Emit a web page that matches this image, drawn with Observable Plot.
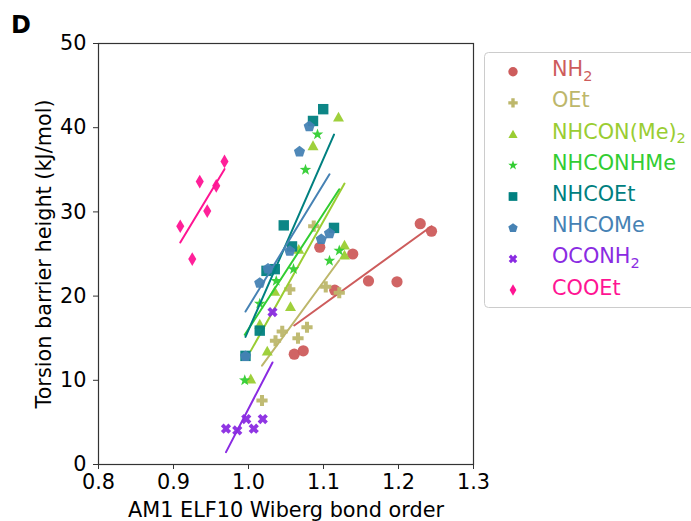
<!DOCTYPE html>
<html>
<head>
<meta charset="utf-8">
<script src="https://cdn.jsdelivr.net/npm/d3@7"></script>
<script src="https://cdn.jsdelivr.net/npm/@observablehq/plot@0.6"></script>
<style>
  html, body { margin: 0; padding: 0; background: white; }
  #wrap { position: relative; width: 691px; height: 521px; overflow: hidden; font-family: "DejaVu Sans", sans-serif; }
  #overlay { position: absolute; left: 0; top: 0; pointer-events: none; }
</style>
</head>
<body>
<div id="wrap"></div>
<script>
// ---- data ----
const series = ["NH2", "OEt", "NHCON(Me)2", "NHCONHMe", "NHCOEt", "NHCOMe", "OCONH2", "COOEt"];
const seriesColors = ["#CD5C5C", "#BDB76B", "#9ACD32", "#32CD32", "#008080", "#4682B4", "#8A2BE2", "#FF1493"];
const labelBase = ["NH", "OEt", "NHCON(Me)", "NHCONHMe", "NHCOEt", "NHCOMe", "OCONH", "COOEt"];
const labelSub  = ["2", "", "2", "", "", "", "2", ""];

const nh2X = [1.061, 1.073, 1.095, 1.115, 1.139, 1.160, 1.198, 1.229, 1.244];
const nh2Y = [13.1, 13.5, 25.8, 20.7, 25.0, 21.8, 21.7, 28.6, 27.7];
const oetX = [1.018, 1.036, 1.045, 1.055, 1.066, 1.078, 1.087, 1.103, 1.121];
const oetY = [7.6, 14.7, 15.8, 20.8, 15.0, 16.3, 28.3, 21.1, 20.4];
const nhconme2X = [1.003, 1.015, 1.025, 1.035, 1.056, 1.067, 1.086, 1.120, 1.128, 1.128];
const nhconme2Y = [10.2, 16.7, 13.5, 20.6, 18.8, 25.6, 37.9, 41.3, 26.1, 24.9];
const nhconhmeX = [0.995, 1.015, 1.037, 1.060, 1.076, 1.092, 1.108, 1.121];
const nhconhmeY = [10.0, 19.1, 21.8, 23.2, 35.0, 39.2, 24.2, 25.4];
const nhcoetX = [0.996, 1.015, 1.024, 1.035, 1.047, 1.058, 1.086, 1.0996, 1.114];
const nhcoetY = [12.9, 15.9, 23.0, 23.2, 28.4, 25.9, 40.8, 42.2, 28.1];
const nhcomeX = [0.996, 1.015, 1.026, 1.055, 1.068, 1.081, 1.097, 1.108];
const nhcomeY = [12.9, 21.6, 23.3, 25.4, 37.2, 40.2, 26.8, 27.5];
const oconh2X = [0.970, 0.985, 0.997, 1.007, 1.019, 1.032];
const oconh2Y = [4.25, 4.05, 5.4, 4.25, 5.4, 18.1];
const cooetX = [0.909, 0.925, 0.935, 0.945, 0.957, 0.968];
const cooetY = [28.3, 24.4, 33.6, 30.1, 33.1, 36.0];

const xTicks = [0.8, 0.9, 1.0, 1.1, 1.2, 1.3];
const yTicks = [0, 10, 20, 30, 40, 50];
const xLabel = "AM1 ELF10 Wiberg bond order";
const yLabel = "Torsion barrier height (kJ/mol)";
const panelTag = "D";

const seriesX = [nh2X, oetX, nhconme2X, nhconhmeX, nhcoetX, nhcomeX, oconh2X, cooetX];
const seriesY = [nh2Y, oetY, nhconme2Y, nhconhmeY, nhcoetY, nhcomeY, oconh2Y, cooetY];

const table = series.map((s, i) => seriesX[i].map((x, j) => ({series: s, x, y: seriesY[i][j]})));

// ---- marker shapes (matplotlib-like) ----
function poly(ctx, pts) {
  ctx.moveTo(pts[0][0], pts[0][1]);
  for (let k = 1; k < pts.length; k++) ctx.lineTo(pts[k][0], pts[k][1]);
  ctx.closePath();
}
function plusPts(r, rot) {
  const e = r, w = r * 0.36;
  const p = [[-w,-e],[w,-e],[w,-w],[e,-w],[e,w],[w,w],[w,e],[-w,e],[-w,w],[-e,w],[-e,-w],[-w,-w]];
  if (!rot) return p;
  const c = Math.SQRT1_2;
  return p.map(([a, b]) => [a * c - b * c, a * c + b * c]);
}
const shapeFns = [
  (ctx, r) => { ctx.moveTo(r, 0); ctx.arc(0, 0, r, 0, 2 * Math.PI); },
  (ctx, r) => poly(ctx, plusPts(r * 1.0, false)),
  (ctx, r) => poly(ctx, [[0, -r * 0.9], [r * 0.98, r * 0.85], [-r * 0.98, r * 0.85]]),
  (ctx, r) => {
    const R = r * 1.08, ri = R * 0.4, pts = [];
    for (let k = 0; k < 10; k++) {
      const a = -Math.PI / 2 + k * Math.PI / 5, rr = k % 2 ? ri : R;
      pts.push([rr * Math.cos(a), rr * Math.sin(a)]);
    }
    poly(ctx, pts);
  },
  (ctx, r) => { const a = r * 0.93; poly(ctx, [[-a,-a],[a,-a],[a,a],[-a,a]]); },
  (ctx, r) => {
    const R = r * 1.05, pts = [];
    for (let k = 0; k < 5; k++) {
      const a = -Math.PI / 2 + k * 2 * Math.PI / 5;
      pts.push([R * Math.cos(a), R * Math.sin(a) + r * 0.08]);
    }
    poly(ctx, pts);
  },
  (ctx, r) => poly(ctx, plusPts(r * 0.95, true)),
  (ctx, r) => { const h = r * 1.22, w = r * 0.72; poly(ctx, [[0,-h],[w,0],[0,h],[-w,0]]); }
];
const symbols = shapeFns.map(fn => ({
  draw(ctx, size) { fn(ctx, Math.sqrt(size / Math.PI)); }
}));

// ---- chart ----
const marks = [];
series.forEach((s, i) => {
  marks.push(Plot.dot(table[i], {x: "x", y: "y", r: 5.6, symbol: symbols[i], fill: seriesColors[i], fillOpacity: 0.95}));
  marks.push(Plot.linearRegressionY(table[i], {x: "x", y: "y", stroke: seriesColors[i], strokeWidth: 2, ci: 0}));
});

const chart = Plot.plot({
  width: 691,
  height: 521,
  marginLeft: 98,
  marginRight: 218,
  marginTop: 43,
  marginBottom: 57,
  style: {fontFamily: "DejaVu Sans, sans-serif", fontSize: "20.8px", color: "black", background: "white"},
  x: {domain: [0.8, 1.3]},
  y: {domain: [0, 50]},
  marks: [
    ...marks,
    Plot.frame({stroke: "#333", strokeWidth: 1.2}),
    Plot.axisX({ticks: xTicks, tickFormat: d => d.toFixed(1), tickSize: 5, tickPadding: 5, label: null, fontSize: 20.8, stroke: "#333"}),
    Plot.axisY({ticks: yTicks, tickFormat: d => String(d), tickSize: 5, tickPadding: 7, label: null, fontSize: 20.8, stroke: "#333"}),
    Plot.text([xLabel], {text: d => d, frameAnchor: "bottom", dy: 52, fontSize: 20.8, fill: "black", textAnchor: "middle"}),
    Plot.text([yLabel], {text: d => d, frameAnchor: "left", dx: -54, rotate: -90, fontSize: 20.8, fill: "black", textAnchor: "middle"})
  ]
});
document.getElementById("wrap").appendChild(chart);

// ---- legend + panel tag overlay ----
const ov = d3.select("#wrap").append("svg")
  .attr("id", "overlay").attr("width", 691).attr("height", 521)
  .style("font-family", "DejaVu Sans, sans-serif");

ov.append("text").attr("x", 11).attr("y", 33).attr("font-size", 24).attr("font-weight", "bold").text(panelTag);

ov.append("rect").attr("x", 484.5).attr("y", 52.5).attr("width", 240).attr("height", 255)
  .attr("rx", 4).attr("fill", "white").attr("fill-opacity", 0.8).attr("stroke", "#cccccc");

series.forEach((s, i) => {
  const cy = 71.7 + i * 31.2;
  const p = d3.path();
  shapeFns[i](p, 4.7);
  ov.append("path").attr("d", p.toString()).attr("transform", `translate(513,${cy})`).attr("fill", seriesColors[i]);
  const t = ov.append("text").attr("x", 552).attr("y", cy + 4.5).attr("font-size", 20.8).attr("fill", seriesColors[i]);
  t.append("tspan").text(labelBase[i]);
  if (labelSub[i]) t.append("tspan").attr("font-size", 14.5).attr("dy", 4.5).text(labelSub[i]);
});
</script>
</body>
</html>
